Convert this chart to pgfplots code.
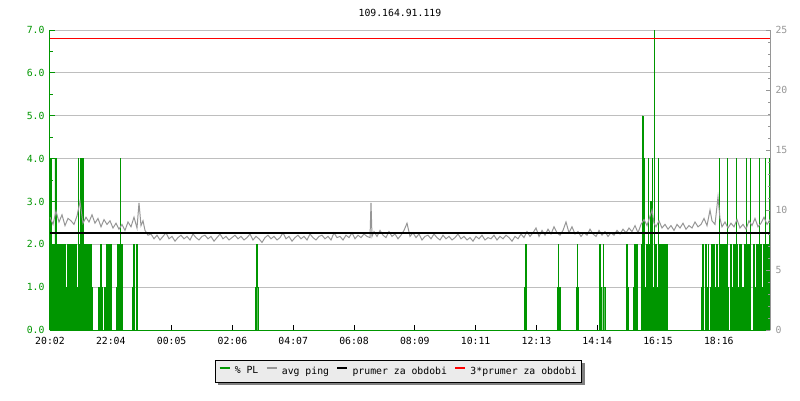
\documentclass[border=0pt]{standalone}
\usepackage{pgfplots}
\pgfplotsset{compat=1.18}
\usepackage{fontspec}
\setmainfont{DejaVu Sans Mono}
\usetikzlibrary{shadows}

\definecolor{plgreen}{RGB}{0,150,0}
\definecolor{pinggray}{RGB}{150,150,150}
\definecolor{gridgray}{RGB}{190,190,190}
\definecolor{legfill}{RGB}{235,235,235}

% packet loss, step data: value holds from x to the next x (x = minutes/2 since 20:02)
\pgfplotstableread{
x v
0 4
1 2
3 1
4 2
5 4
6 2
7.5 1
8 2
9.5 1
10 2
12 1
13 2
15 1
16 0
17 2
19 1
20 2
21 1
22 2
24 1
25 2
26 0
27 1
28 4
28.6 2
30.5 4
31.1 2
32.5 4
33.1 1
34 2
36 1
37 2
38 0
39 2
41 1
42 0
48 1
49 0
50 2
51.5 1
52 0
54 1
55 0
56 2
57 0
58 2
59 1
60 2
61 0
66 1
67 2
69 1
70 4
70.6 2
72 0
82 1
83 2
84 0
86 1
86.5 2
87.5 0
205.5 1
206.3 2
207 1
207.7 0
474 1
475 2
475.7 1
476.5 0
507 1
508 2
508.6 1
510 0
526 1
527 2
527.6 1
528.3 0
549 1
549.2 2
549.9 1
551 0
552.7 1
553 2
553.6 1
554.7 0
576 2
576.7 1
578 0
583 1
584 2
585 1
586 2
587 0
591 2
592 5
592.7 2
593 3.5
593.8 2
594 4
594.6 1
596 2
598 4
598.6 2
600 3
600.8 2
602 4
602.6 1
604 7
604.6 2
606 1
608 4
608.6 2
611 0
612 2
617 0
651.5 1
652.5 2
653 0
655 2
656 1
658 2
658.5 0
660 1
661 2
662 1
663 2
664 1
665 0
666 2
667 1
669 4
669.6 2
671 1
672 2
674 1
675 2
677 4
677.6 1
678 0
680 2
681 1
683 2
685 1
686 4
686.6 2
687 0
688 1
689 2
691 1
693 0
694 2
696 4
696.6 1
697 2
699 1
700 4
700.6 0
703 2
704 1
706 2
708 1
709 4
709.6 2
711 0
712 1
713 2
715 4
715.6 1
716 2
718 0
719 4
720 4
}\pltable

\begin{document}
\begin{tikzpicture}[font=\fontsize{9.8}{11}\selectfont]
\path[use as bounding box] (-50pt,-70pt) rectangle (750pt,330pt);

\begin{axis}[
  at={(0,0)}, anchor=south west,
  width=720pt, height=300pt, scale only axis,
  xmin=0, xmax=720, ymin=0, ymax=7,
  axis x line*=bottom, axis y line*=left,
  x axis line style={draw=black, line width=1pt},
  y axis line style={draw=plgreen, line width=1pt},
  tick align=inside,
  major tick length=5pt, minor tick length=3pt,
  xtick={0,60.8,121.6,182.4,243.2,304,364.8,425.6,486.4,547.2,608,668.8},
  xticklabels={20:02,22:04,00:05,02:06,04:07,06:08,08:09,10:11,12:13,14:14,16:15,18:16},
  xtick style={draw=black, line width=1pt},
  xticklabel style={yshift=-4pt},
  ytick={0,1,...,7},
  yticklabels={0.0,1.0,2.0,3.0,4.0,5.0,6.0,7.0},
  minor y tick num=1,
  ytick style={draw=plgreen, line width=1pt},
  yticklabel style={text=plgreen, xshift=-2pt},
  ymajorgrids, grid style={gridgray, line width=1pt},
  title={109.164.91.119},
  title style={at={(0.486,1)}, anchor=center, yshift=11pt},
]
\addplot[const plot mark left, fill=plgreen, draw=plgreen, line width=0.3pt] table[x=x, y=v] {\pltable} \closedcycle;
\end{axis}

\begin{axis}[
  at={(0,0)}, anchor=south west,
  width=720pt, height=300pt, scale only axis,
  xmin=0, xmax=720, ymin=0, ymax=25,
  axis x line=none, axis y line*=right,
  y axis line style={draw=pinggray, line width=1pt},
  tick align=inside,
  major tick length=4pt, minor tick length=2.5pt,
  ytick={0,5,...,25}, minor y tick num=4,
  ytick style={draw=pinggray, line width=1pt},
  yticklabel style={text=pinggray, xshift=2pt},
  /pgf/number format/assume math mode=true,
  legend columns=4,
  legend style={at={(0.484,-0.137)}, anchor=center,
    fill=legfill, draw=black, line width=1pt,
    drop shadow={shadow xshift=3pt, shadow yshift=-3pt, fill=black!50, opacity=1},
    inner xsep=3pt, inner ysep=4.5pt,
    /tikz/every odd column/.append style={column sep=2pt},
    /tikz/every even column/.append style={column sep=5pt}},
  legend image code/.code={%
    \begin{scope}[#1]
    \pgfsetlinewidth{2.5pt}%
    \pgfpathmoveto{\pgfpoint{0pt}{3pt}}%
    \pgfpathlineto{\pgfpoint{10pt}{3pt}}%
    \pgfusepath{stroke}%
    \end{scope}},
]
\addlegendimage{plgreen}
\addlegendentry{\% PL}
\addplot[pinggray, line width=1pt] coordinates {
(0,9.4) (3,8.8) (6,9.9) (9,9.0) (12,9.6) (15,8.7) (18,9.3) (21,9.1) (24,8.8) (27,9.5)
(30,10.7) (33,8.9) (36,9.4) (39,9.0) (42,9.6) (45,8.9) (48,9.3) (51,8.6) (54,9.2) (57,8.8)
(60,9.1) (63,8.5) (66,8.9) (69,8.4) (72,8.8) (75,8.3) (78,9.0) (81,8.6) (84,9.4) (87,8.5)
(89,10.6) (91,8.7) (93,9.1) (95,8.3)
(98,7.9) (101,8.0) (104,7.6) (107,7.9) (110,7.5) (113,7.8) (116,8.1) (119,7.6) (122,7.8) (125,7.4)
(128,7.7) (131,7.9) (134,7.6) (137,7.8) (140,7.5) (143,8.0) (146,7.7) (149,7.5) (152,7.8) (155,7.9)
(158,7.6) (161,7.8) (164,7.4) (167,7.7) (170,8.0) (173,7.6) (176,7.8) (179,7.5) (182,7.7) (185,7.9)
(188,7.6) (191,7.8) (194,7.5) (197,7.7) (200,8.0) (203,7.5) (206,7.8) (209,7.6) (212,7.3) (215,7.7)
(218,7.9) (221,7.6) (224,7.8) (227,7.5) (230,7.7) (233,8.1) (236,7.6) (239,7.8) (242,7.4) (245,7.7)
(248,7.9) (251,7.6) (254,7.8) (257,7.5) (260,8.0) (263,7.7) (266,7.5) (269,7.8) (272,7.9) (275,7.6)
(278,7.8) (281,7.5) (284,8.1) (287,7.7) (290,7.8) (293,7.5) (296,7.9) (299,7.7) (302,8.1) (305,7.6)
(308,7.9) (311,7.7) (314,8.0) (317,7.8) (320,7.7) (321,10.6) (322,7.8) (324,8.2) (327,7.8) (330,8.3)
(333,7.9) (336,7.7) (339,8.2) (342,7.8) (345,8.0) (348,7.6) (351,7.9) (354,8.3) (357,8.9) (360,7.8)
(363,8.1) (366,7.7) (369,8.0) (372,7.5) (375,7.8) (378,7.9) (381,7.6) (384,8.0) (387,7.7) (390,7.5)
(393,7.9) (396,7.6) (399,7.8) (402,7.5) (405,7.7) (408,8.0) (411,7.6) (414,7.8) (417,7.5) (420,7.7)
(423,7.4) (426,7.8) (429,7.6) (432,7.9) (435,7.5) (438,7.7) (441,7.6) (444,7.9) (447,7.5) (450,7.8)
(453,7.6) (456,7.9) (459,7.7) (462,7.4) (465,7.8) (468,7.6) (471,8.0) (474,7.7) (477,8.2) (480,7.8)
(483,8.1) (486,8.5) (489,7.8) (492,8.3) (495,7.9) (498,8.4) (501,8.0) (504,8.6) (507,8.1) (510,7.9)
(513,8.3) (516,9.0) (519,8.1) (522,8.6) (525,8.0) (528,8.2) (531,7.8) (534,8.1) (537,7.9) (540,8.4)
(543,8.0) (546,7.8) (549,8.3) (552,7.9) (555,8.2) (558,7.8) (561,8.1) (564,7.9) (567,8.3) (570,8.0)
(573,8.4) (576,8.1) (579,8.5) (582,8.2) (585,8.7) (588,8.1) (591,8.8) (594,9.2) (597,8.7) (600,9.5)
(602,10.0) (604,8.9) (606,8.6) (609,9.1) (612,8.5) (615,8.8) (618,8.4) (621,8.7) (624,8.3) (627,8.8)
(630,8.5) (633,8.9) (636,8.4) (639,8.7) (642,8.5) (645,9.0) (648,8.6) (651,8.8) (654,9.3) (657,8.7)
(660,10.0) (662,9.1) (665,8.8) (668,11.1) (670,9.3) (672,8.6) (675,9.0) (678,8.5) (681,8.9) (684,8.6)
(687,9.2) (690,8.5) (693,8.8) (696,8.4) (699,9.1) (702,8.7) (705,9.3) (708,8.6) (711,8.9) (714,9.4)
(717,8.8) (720,9.2)
};
\addlegendentry{avg ping}
\addplot[black, line width=2.5pt] coordinates {(0,8.1) (720,8.1)};
\addlegendentry{prumer za obdobi}
\addplot[red, line width=1.5pt] coordinates {(0,24.3) (720,24.3)};
\addlegendentry{3*prumer za obdobi}
\end{axis}
\end{tikzpicture}
\end{document}
